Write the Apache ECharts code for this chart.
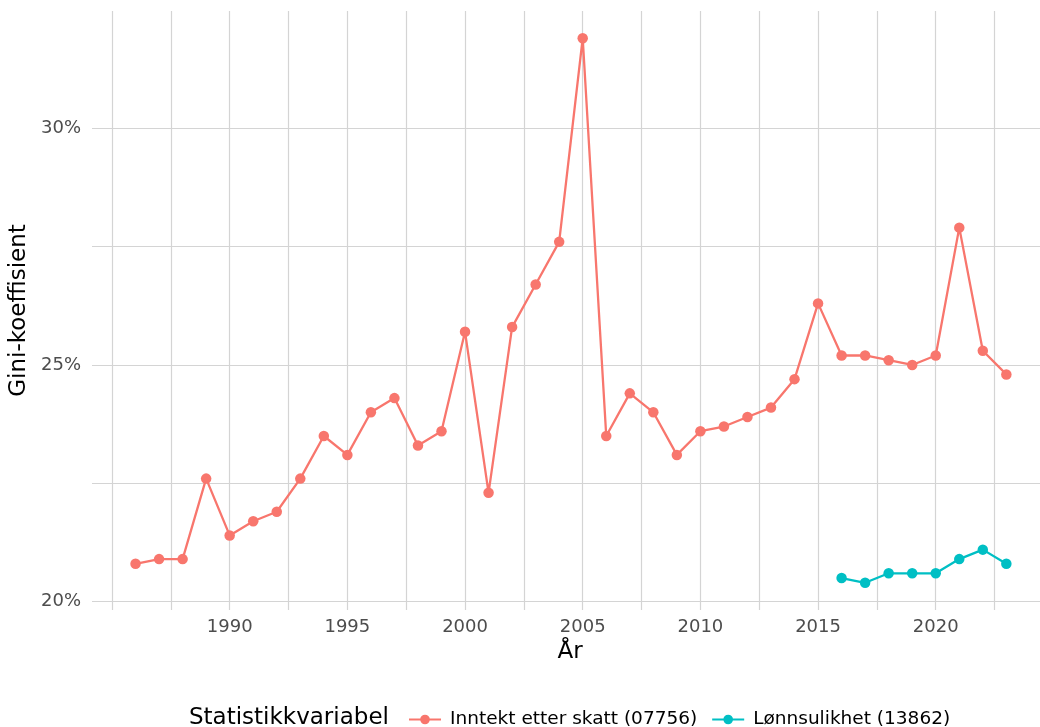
<!DOCTYPE html>
<html><head><meta charset="utf-8">
<script src="https://cdn.jsdelivr.net/npm/echarts@6/dist/echarts.min.js"></script>
<style>html,body{margin:0;padding:0;background:#fff}#c{width:1040px;height:727px}</style>
</head><body><div id="c"></div>
<script>
const yearsInntekt = [1986,1987,1988,1989,1990,1991,1992,1993,1994,1995,1996,1997,1998,1999,2000,2001,2002,2003,2004,2005,2006,2007,2008,2009,2010,2011,2012,2013,2014,2015,2016,2017,2018,2019,2020,2021,2022,2023];
const valuesInntekt = [20.8,20.9,20.9,22.6,21.4,21.7,21.9,22.6,23.5,23.1,24.0,24.3,23.3,23.6,25.7,22.3,25.8,26.7,27.6,31.9,23.5,24.4,24.0,23.1,23.6,23.7,23.9,24.1,24.7,26.3,25.2,25.2,25.1,25.0,25.2,27.9,25.3,24.8];
const yearsLonn = [2016,2017,2018,2019,2020,2021,2022,2023];
const valuesLonn = [20.5,20.4,20.6,20.6,20.6,20.9,21.1,20.8];
const xLabelValues = [1990,1995,2000,2005,2010,2015,2020];
const xGridValues = [1985,1987.5,1990,1992.5,1995,1997.5,2000,2002.5,2005,2007.5,2010,2012.5,2015,2017.5,2020,2022.5];
const yLabelValues = [20,25,30];
const yGridValues = [20,22.5,25,27.5,30];
const seriesNames = ['Inntekt etter skatt (07756)','Lønnsulikhet (13862)'];

const font = 'DejaVu Sans';
const chart = echarts.init(document.getElementById('c'));
chart.setOption({
  animation:false,
  textStyle:{fontFamily:font},
  grid:{left:92, top:11, width:956, height:599, containLabel:false, outerBoundsMode:'none'},
  xAxis:{type:'value', min:1984.15, max:2024.77,
    name:'År', nameLocation:'middle', nameGap:29,
    nameTextStyle:{fontSize:23, color:'#000', fontFamily:font},
    axisLine:{show:false},
    axisTick:{show:false, customValues:xGridValues},
    axisLabel:{customValues:xLabelValues, fontSize:18, color:'#4d4d4d', margin:8, fontFamily:font,
      formatter:v=>String(v)},
    splitLine:{show:true, lineStyle:{color:'#d4d4d4', width:1.2}}
  },
  yAxis:{type:'value', min:19.825, max:32.475,
    name:'Gini-koeffisient', nameLocation:'middle', nameGap:57, nameRotate:90,
    nameTextStyle:{fontSize:23, color:'#000', fontFamily:font},
    axisLine:{show:false},
    axisTick:{show:false, customValues:yGridValues},
    axisLabel:{customValues:yLabelValues, fontSize:18, color:'#4d4d4d', margin:11, fontFamily:font,
      formatter:v=>Math.round(v)+'%'},
    splitLine:{show:true, lineStyle:{color:'#d4d4d4', width:1.2}}
  },
  legend:{left:403, top:705, itemWidth:32, itemHeight:12, itemGap:14,
    textStyle:{fontSize:18.5, color:'#000', fontFamily:font, padding:[0,0,0,4]},
    data:seriesNames},
  graphic:[{type:'text', left:189, top:707, style:{text:'Statistikkvariabel', fontSize:23, fill:'#000', fontFamily:font}}],
  series:[
    {name:seriesNames[0], type:'line', data:yearsInntekt.map((y,i)=>[y,valuesInntekt[i]]),
      color:'#F8766D', symbol:'circle', symbolSize:10.5, lineStyle:{width:2.3}},
    {name:seriesNames[1], type:'line', data:yearsLonn.map((y,i)=>[y,valuesLonn[i]]),
      color:'#00BFC4', symbol:'circle', symbolSize:10.5, lineStyle:{width:2.3}}
  ]
});
</script></body></html>
